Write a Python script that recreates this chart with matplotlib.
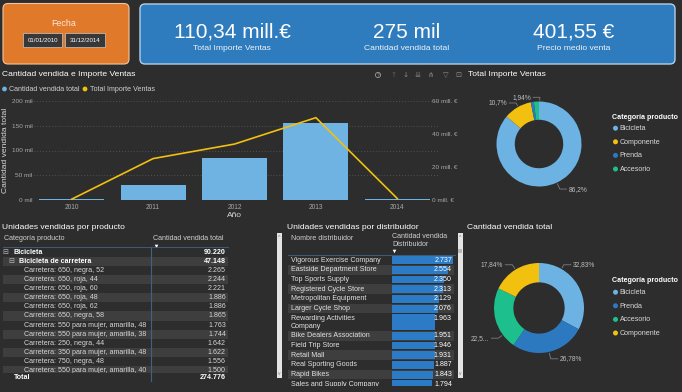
import matplotlib
matplotlib.use("Agg")
import matplotlib.pyplot as plt
from matplotlib.patches import FancyBboxPatch, Rectangle, Circle
import numpy as np

plt.rcParams['font.family'] = ['Liberation Sans', 'DejaVu Sans']

# ---------------- data ----------------
date_range = ['01/01/2010', '31/12/2014']
kpi_values = ['110,34 mill.€', '275 mil', '401,55 €']
kpi_labels = ['Total Importe Ventas', 'Cantidad vendida total', 'Precio medio venta']

years = ['2010', '2011', '2012', '2013', '2014']
qty_by_year = [2300, 31000, 84000, 155000, 2500]
sales_by_year = [0.5, 25.1, 33.9, 49.9, 0.9]          # mill. €
qty_ticks = [0, 50000, 100000, 150000, 200000]
sales_ticks = [0, 20, 40, 60]

sales_cats = ['Bicicleta', 'Componente', 'Prenda', 'Accesorio']
sales_share = [86.2, 10.7, 1.16, 1.94]
sales_labels = ['86,2%', '10,7%', '', '1,94%']

qty_cats = ['Bicicleta', 'Prenda', 'Accesorio', 'Componente']
qty_share = [32.83, 26.78, 22.55, 17.84]
qty_labels = ['32,83%', '26,78%', '22,5...', '17,84%']

cat_colors = {'Bicicleta': '#6cb2e2', 'Componente': '#f2c00f',
              'Prenda': '#2c79c0', 'Accesorio': '#1dbf8c'}

product_names = ['Bicicleta', 'Bicicleta de carretera',
                 'Carretera: 650, negra, 52', 'Carretera: 650, roja, 44',
                 'Carretera: 650, roja, 60', 'Carretera: 650, roja, 48',
                 'Carretera: 650, roja, 62', 'Carretera: 650, negra, 58',
                 'Carretera: 550 para mujer, amarilla, 48',
                 'Carretera: 550 para mujer, amarilla, 38',
                 'Carretera: 250, negra, 44',
                 'Carretera: 350 para mujer, amarilla, 48',
                 'Carretera: 750, negra, 48',
                 'Carretera: 550 para mujer, amarilla, 40']
product_values = [90220, 47148, 2265, 2244, 2221, 1886, 1886, 1865,
                  1763, 1744, 1642, 1622, 1556, 1500]
product_levels = [0, 1, 2, 2, 2, 2, 2, 2, 2, 2, 2, 2, 2, 2]
product_total = 274776

distrib_names = ['Vigorous Exercise Company', 'Eastside Department Store',
                 'Top Sports Supply', 'Registered Cycle Store',
                 'Metropolitan Equipment', 'Larger Cycle Shop',
                 'Rewarding Activities\nCompany', 'Bike Dealers Association',
                 'Field Trip Store', 'Retail Mall', 'Real Sporting Goods',
                 'Rapid Bikes', 'Sales and Supply Company']
distrib_values = [2737, 2554, 2350, 2313, 2129, 2076, 1963, 1951,
                  1946, 1931, 1887, 1843, 1794]


def fmt_es(v):
    return f"{v:,}".replace(',', '.')


# ---------------- figure ----------------
W, H = 682, 392
BG = '#2d2d2d'
fig = plt.figure(figsize=(W / 100, H / 100), dpi=100, facecolor=BG)
ax0 = fig.add_axes([0, 0, 1, 1], zorder=0)
ax0.set_xlim(0, W)
ax0.set_ylim(H, 0)
ax0.axis('off')


def px_axes(x0, y0, x1, y1, z=2):
    a = fig.add_axes([x0 / W, 1 - y1 / H, (x1 - x0) / W, (y1 - y0) / H], zorder=z)
    a.set_facecolor('none')
    return a


def T(x, y, s, size=5.1, color='#e6e6e6', ha='left', va='center', weight='normal', **kw):
    return ax0.text(x, y, s, fontsize=size, color=color, ha=ha, va=va,
                    fontweight=weight, **kw)


# ---------- top cards ----------
ax0.add_patch(FancyBboxPatch((3, 3.5), 126, 60.5, boxstyle="round,pad=0,rounding_size=5",
                             fc='#e07a2a', ec='#f3c6a0', lw=0.8))
T(64, 23, 'Fecha', 6.4, '#fbe9dc', ha='center')
for (bx, bw), txt in zip([(23, 39), (65, 40)], date_range):
    ax0.add_patch(Rectangle((bx, 33), bw, 14, fc='#383838', ec='#c8c8c8', lw=0.5))
    T(bx + bw / 2, 40.3, txt, 4.4, '#ffffff', ha='center')

ax0.add_patch(FancyBboxPatch((140, 4), 535, 60, boxstyle="round,pad=0,rounding_size=5",
                             fc='#2e7bbd', ec='#b3cfe8', lw=1.0))
for cx, v, l in zip([232, 407, 574], kpi_values, kpi_labels):
    T(cx, 32, v, 15, '#ffffff', ha='center')
    T(cx, 48.5, l, 6.1, '#eef4fa', ha='center')

# ---------- combo chart ----------
T(2, 74, 'Cantidad vendida e Importe Ventas', 6.1, '#ffffff')
ax0.add_patch(Circle((4.5, 89), 2.4, fc=cat_colors['Bicicleta'], ec='none'))
T(9, 89.3, 'Cantidad vendida total', 5.1, '#cfcfcf')
ax0.add_patch(Circle((85, 89), 2.4, fc='#f2c00f', ec='none'))
T(89.5, 89.3, 'Total Importe Ventas', 5.1, '#cfcfcf')
# toolbar icons
ax0.add_patch(Circle((378, 75), 2.6, fc='none', ec='#9a9a9a', lw=0.6))
T(378, 75.3, '?', 3.6, '#9a9a9a', ha='center')
for xi, sym in zip([394, 406, 418, 431, 446, 458], ['↑', '↓', '⇊', '⋔', '▽', '⊡']):
    T(xi, 75, sym, 5.2, '#8a8a8a' if sym != '↑' else '#5e5e5e', ha='center',
      family=['DejaVu Sans'])

ax1 = px_axes(31, 101, 438, 200)
x = np.arange(len(years))
ax1.bar(x, qty_by_year, width=0.8, color='#6fb3e2', zorder=3)
ax1.set_xlim(-0.5, len(years) - 0.5)
ax1.set_ylim(qty_ticks[0], qty_ticks[-1])
ax1.set_yticks(qty_ticks)
ax1.set_yticklabels([f"{int(v / 1000)} mil" for v in qty_ticks])
ax1.set_xticks(x)
ax1.set_xticklabels(years)
ax1.tick_params(axis='y', length=0, pad=-1, labelsize=4.6, labelcolor='#a8a8a8')
ax1.tick_params(axis='x', length=0, pad=3.2, labelsize=4.8, labelcolor='#a8a8a8')
ax1.yaxis.grid(True, linestyle=(0, (1, 2.5)), color='#5e5e5e', lw=0.6, zorder=0)
for s in ax1.spines.values():
    s.set_visible(False)
ax2 = ax1.twinx()
ax2.set_facecolor('none')
ax2.plot(x, sales_by_year, color='#f2c00f', lw=1.2, zorder=4)
ax2.set_ylim(sales_ticks[0], sales_ticks[-1])
ax2.set_yticks(sales_ticks)
ax2.set_yticklabels([f"{v} mill. €" for v in sales_ticks])
ax2.tick_params(axis='y', length=0, pad=-4, labelsize=4.6, labelcolor='#a8a8a8')
for s in ax2.spines.values():
    s.set_visible(False)
T(234, 215, 'Año', 6.0, '#d8d8d8', ha='center')
T(5.5, 150, 'Cantidad vendida total', 6.1, '#d8d8d8', ha='center', rotation=90)


# ---------- donuts ----------
def donut(cx, cy, r, cats, shares, labels, label_pos, title, tx, ty, leg_y):
    S = 70
    ax = px_axes(cx - S, cy - S, cx + S, cy + S)
    wedges, _ = ax.pie(shares, colors=[cat_colors[c] for c in cats], startangle=90,
                       counterclock=False, radius=1,
                       wedgeprops=dict(width=0.43, edgecolor='none'))
    lim = S / r
    ax.set_xlim(-lim, lim)
    ax.set_ylim(-lim, lim)
    ax.set_aspect('equal')
    for lab, pos in zip(labels, label_pos):
        if not lab:
            continue
        lx, ly = pos
        sg = 1 if lx >= 0 else -1
        p3 = np.array([lx - sg * 0.05, ly])
        p2 = np.array([p3[0] - sg * 0.16, ly])
        p1 = p2 / np.hypot(*p2) * 1.03
        ax.plot([p1[0], p2[0], p3[0]], [p1[1], p2[1], p3[1]], color='#8c8c8c', lw=0.5)
        ax.text(lx, ly, lab, fontsize=4.8, color='#bdbdbd',
                ha='left' if sg > 0 else 'right', va='center')
    T(tx, ty, title, 6.1, '#ffffff')
    T(612, leg_y, 'Categoría producto', 5.1, '#ffffff', weight='bold')
    for i, cname in enumerate(cats):
        yy = leg_y + 11.2 + i * 13.6
        ax0.add_patch(Circle((615.5, yy), 2.5, fc=cat_colors[cname], ec='none'))
        T(619.5, yy + 0.3, cname, 5.1, '#d8d8d8')


# label anchor positions (in units of the donut radius), one per slice
sales_label_pos = [(0.70, -1.06), (-0.75, 0.965), None, (-0.19, 1.10)]
qty_label_pos = [(0.76, 0.96), (0.47, -1.13), (-1.11, -0.67), (-0.80, 0.96)]

donut(539, 144, 42.5, sales_cats, sales_share, sales_labels, sales_label_pos,
      'Total Importe Ventas', 468, 74, 117)
donut(539, 308, 45, qty_cats, qty_share, qty_labels, qty_label_pos,
      'Cantidad vendida total', 467, 227, 281)

# ---------- table 1: products ----------
T(2, 227, 'Unidades vendidas por producto', 6.1, '#ffffff')
T(4, 238, 'Categoría producto', 5.1, '#cfcfcf')
T(153, 238, 'Cantidad vendida total', 5.1, '#cfcfcf')
ax0.plot([155.5], [246], marker='v', ms=2.6, color='#ffffff', mec='none')
row_h = 9.13
top0 = 247.5
for i, (nm, val, lvl) in enumerate(zip(product_names, product_values, product_levels)):
    top = top0 + i * row_h
    cy = top + row_h / 2
    if i % 2 == 1:
        ax0.add_patch(Rectangle((3, top), 225, row_h, fc='#3e3e3e', ec='none', zorder=1))
    if lvl == 0:
        T(5.5, cy, '⊟', 5.0, '#bdbdbd', ha='center', family=['DejaVu Sans'], zorder=2)
        T(13, cy, nm, 5.1, '#ffffff', weight='bold', zorder=2)
        T(226, cy, fmt_es(val), 5.1, '#ffffff', ha='right', weight='bold', zorder=2)
    elif lvl == 1:
        T(11.5, cy, '⊟', 5.0, '#bdbdbd', ha='center', family=['DejaVu Sans'], zorder=2)
        T(19, cy, nm, 5.1, '#ffffff', weight='bold', zorder=2)
        T(226, cy, fmt_es(val), 5.1, '#ffffff', ha='right', weight='bold', zorder=2)
    else:
        T(24, cy, nm, 5.1, '#d6d6d6', zorder=2)
        T(226, cy, fmt_es(val), 5.1, '#d6d6d6', ha='right', zorder=2)
ax0.add_patch(Rectangle((0, 373), 240, 19, fc=BG, ec='none', zorder=3))
T(14, 377.5, 'Total', 5.1, '#ffffff', weight='bold', zorder=4)
T(226, 377.5, fmt_es(product_total), 5.1, '#ffffff', ha='right', weight='bold', zorder=4)
ax0.plot([3, 228], [247.3, 247.3], color='#3f6384', lw=0.6, zorder=5)
ax0.plot([151, 151], [247.3, 381], color='#3f6384', lw=0.8, zorder=5)

# ---------- table 2: distributors ----------
T(287, 227, 'Unidades vendidas por distribuidor', 6.1, '#ffffff')
T(291, 238, 'Nombre distribuidor', 5.1, '#cfcfcf')
T(392, 236, 'Cantidad vendida', 5.1, '#cfcfcf')
T(392, 244.5, 'Distribuidor', 5.1, '#cfcfcf')
ax0.plot([394], [251], marker='v', ms=2.6, color='#ffffff', mec='none')
ax0.plot([288, 455], [255.2, 255.2], color='#3f6384', lw=0.6)
vmax = max(distrib_values)
top = 255.3
for i, (nm, val) in enumerate(zip(distrib_names, distrib_values)):
    h = 17.5 if '\n' in nm else 9.7
    if i % 2 == 1:
        ax0.add_patch(Rectangle((288, top), 166, h, fc='#3e3e3e', ec='none', zorder=1))
    ax0.add_patch(Rectangle((392, top + 0.9), 60.5 * val / vmax, h - 1.8,
                            fc='#2c7bc6', ec='none', zorder=2))
    lines = nm.split('\n')
    if len(lines) == 1:
        T(291, top + h / 2, nm, 5.1, '#e2e2e2', zorder=3)
        T(452, top + h / 2, fmt_es(val), 5.1, '#ffffff', ha='right', zorder=3)
    else:
        T(291, top + 4.7, lines[0], 5.1, '#e2e2e2', zorder=3)
        T(291, top + 12.8, lines[1], 5.1, '#e2e2e2', zorder=3)
        T(452, top + 4.7, fmt_es(val), 5.1, '#ffffff', ha='right', zorder=3)
    top += h
ax0.add_patch(Rectangle((280, 386), 190, 8, fc=BG, ec='none', zorder=4))
# scrollbars
for sx in (276.5, 457.5):
    ax0.add_patch(Rectangle((sx, 233), 5.5, 145, fc='#e4e4e4', ec='none', zorder=5))
    T(sx + 2.75, 237.5, '^', 3.8, '#7a7a7a', ha='center', zorder=6)
    T(sx + 2.75, 373.5, 'v', 3.6, '#7a7a7a', ha='center', zorder=6)
ax0.add_patch(Rectangle((458, 249), 3.5, 4, fc='#b8b8b8', ec='none', zorder=6))

fig.savefig('out.png', dpi=100, facecolor=BG)
